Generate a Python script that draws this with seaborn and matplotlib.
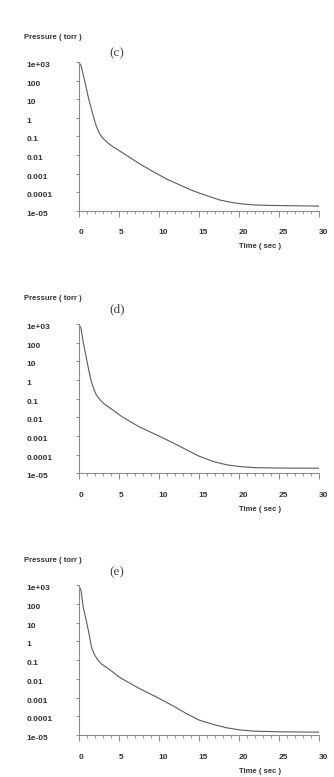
import matplotlib
matplotlib.use("Agg")
import matplotlib.pyplot as plt
import numpy as np
import pandas as pd
import seaborn as sns

# Datos (log10 de la presion en torr)
time_c = [0, 0.3, 0.58, 0.9, 1.2, 1.6, 1.95, 2.2, 2.45, 2.75, 3.07, 3.5, 4.24, 5.0, 5.9, 7.5, 9.3, 11, 12.65, 14, 15.1, 16.4, 17.6, 19, 20.5, 22, 23.5, 26, 30]
logp_c = [3, 2.8, 2.3, 1.7, 1.1, 0.45, -0.1, -0.45, -0.72, -0.95, -1.12, -1.3, -1.55, -1.75, -2.0, -2.45, -2.9, -3.3, -3.62, -3.88, -4.06, -4.25, -4.42, -4.55, -4.64, -4.69, -4.71, -4.73, -4.75]

time_d = [0, 0.3, 0.58, 0.9, 1.2, 1.5, 1.83, 2.2, 2.66, 3.2, 3.9, 4.6, 5.37, 7.5, 10.15, 12, 13.5, 15, 16.8, 18.5, 20.1, 22, 25, 30]
logp_d = [3, 2.75, 1.98, 1.3, 0.64, 0.05, -0.43, -0.8, -1.06, -1.3, -1.5, -1.72, -1.96, -2.5, -3.03, -3.42, -3.75, -4.08, -4.37, -4.55, -4.64, -4.7, -4.72, -4.73]

time_e = [0, 0.3, 0.58, 0.9, 1.2, 1.6, 1.95, 2.4, 2.9, 3.5, 4.3, 5.1, 7.5, 10.15, 12, 13.5, 15, 16.8, 18.5, 20.1, 22, 25, 30]
logp_e = [3, 2.7, 1.8, 1.2, 0.6, -0.3, -0.7, -1.0, -1.22, -1.4, -1.65, -1.92, -2.5, -3.07, -3.5, -3.87, -4.2, -4.44, -4.62, -4.73, -4.8, -4.83, -4.85]

panel_labels = ["(c)", "(d)", "(e)"]
ytick_vals = [1e3, 1e2, 1e1, 1, 0.1, 0.01, 0.001, 0.0001, 1e-5]
ytick_labels = ["1e+03", "100", "10", "1", "0.1", "0.01", "0.001", "0.0001", "1e-05"]
xtick_vals = [0, 5, 10, 15, 20, 25, 30]

sns.set_style("ticks")
plt.rcParams["font.family"] = ["Liberation Sans", "DejaVu Sans"]

fig = plt.figure(figsize=(3.34, 7.77), dpi=100)

# posiciones de cada panel [izq, abajo, ancho, alto] en fraccion de figura
rects = [[0.2356, 0.7288, 0.7195, 0.1914],
         [0.2356, 0.3909, 0.7195, 0.1922],
         [0.2356, 0.0541, 0.7195, 0.1927]]
label_y = [1.06, 1.10, 1.087]

series = [(time_c, logp_c), (time_d, logp_d), (time_e, logp_e)]

for i, (t, lp) in enumerate(series):
    ax = fig.add_axes(rects[i])
    df = pd.DataFrame({"Time": t, "Pressure": 10 ** np.array(lp)})
    sns.lineplot(data=df, x="Time", y="Pressure", ax=ax, color="#5a5a5a", linewidth=0.8, sort=False)
    ax.set_yscale("log")
    ax.set_ylim(1e-5, 1e3)
    ax.set_xlim(0, 30)
    ax.set_xlabel("")
    ax.set_ylabel("")

    for side in ["top", "right"]:
        ax.spines[side].set_visible(False)
    for side in ["left", "bottom"]:
        ax.spines[side].set_color("#8a8a8a")
        ax.spines[side].set_linewidth(0.8)

    ax.set_yticks(ytick_vals)
    ax.yaxis.set_minor_locator(matplotlib.ticker.NullLocator())
    ax.set_yticklabels(ytick_labels, ha="left", va="top", fontsize=6, fontweight="bold", color="#333333")
    ax.tick_params(axis="y", which="major", left=True, direction="out", length=2, width=0.7, color="#8a8a8a", pad=35.5)

    ax.set_xticks(xtick_vals)
    ax.set_xticks(np.arange(0, 31, 1), minor=True)
    ax.set_xticklabels([str(v) for v in xtick_vals], ha="left", fontsize=6, fontweight="bold", color="#333333")
    ax.tick_params(axis="x", which="major", bottom=True, direction="out", length=4.5, width=0.7, color="#8a8a8a", pad=9)
    ax.tick_params(axis="x", which="minor", bottom=True, direction="out", length=2.5, width=0.6, color="#8a8a8a")

    ax.text(-0.226, 1.168, "Pressure ( torr )", transform=ax.transAxes, ha="left", va="center",
            fontsize=5.5, fontweight="bold", color="#333333")
    ax.text(0.754, -0.242, "Time ( sec )", transform=ax.transAxes, ha="center", va="center",
            fontsize=5.5, fontweight="bold", color="#333333")
    ax.text(0.159, label_y[i], panel_labels[i], transform=ax.transAxes, ha="center", va="center",
            fontsize=9.5, family="Liberation Serif", color="#444444")

plt.savefig("out.png", dpi=100)
